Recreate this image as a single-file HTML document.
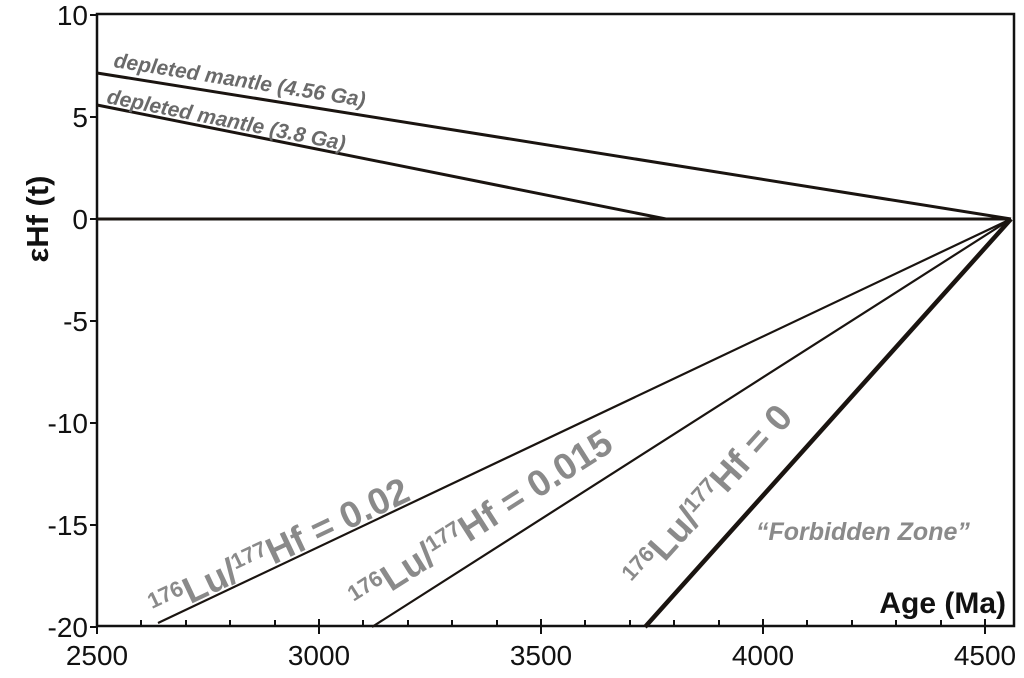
<!DOCTYPE html>
<html><head><meta charset="utf-8"><style>html,body{margin:0;padding:0;background:#fff}</style></head>
<body>
<svg width="1024" height="673" viewBox="0 0 1024 673" xmlns="http://www.w3.org/2000/svg" font-family="Liberation Sans, Arial, sans-serif">
<rect width="1024" height="673" fill="#fff"/>
<path d="M97,14 H1014 V626 H97 Z" fill="none" stroke="#111" stroke-width="2.5"/>
<g stroke="#111" stroke-width="2">
<line x1="90" y1="15" x2="97" y2="15"/><line x1="90" y1="117" x2="97" y2="117"/>
<line x1="90" y1="219" x2="97" y2="219"/><line x1="90" y1="321" x2="97" y2="321"/>
<line x1="90" y1="423" x2="97" y2="423"/><line x1="90" y1="525" x2="97" y2="525"/>
<line x1="90" y1="627" x2="97" y2="627"/>
</g>
<g stroke="#111" stroke-width="2">
<line x1="97" y1="619" x2="97" y2="634"/><line x1="319" y1="619" x2="319" y2="634"/>
<line x1="541" y1="619" x2="541" y2="634"/><line x1="763" y1="619" x2="763" y2="634"/>
<line x1="985" y1="619" x2="985" y2="634"/>
<line x1="141" y1="620" x2="141" y2="626"/><line x1="186" y1="620" x2="186" y2="626"/>
<line x1="230" y1="620" x2="230" y2="626"/><line x1="275" y1="620" x2="275" y2="626"/>
<line x1="363" y1="620" x2="363" y2="626"/><line x1="408" y1="620" x2="408" y2="626"/>
<line x1="452" y1="620" x2="452" y2="626"/><line x1="497" y1="620" x2="497" y2="626"/>
<line x1="585" y1="620" x2="585" y2="626"/><line x1="630" y1="620" x2="630" y2="626"/>
<line x1="674" y1="620" x2="674" y2="626"/><line x1="719" y1="620" x2="719" y2="626"/>
<line x1="807" y1="620" x2="807" y2="626"/><line x1="852" y1="620" x2="852" y2="626"/>
<line x1="896" y1="620" x2="896" y2="626"/><line x1="941" y1="620" x2="941" y2="626"/>
</g>
<g font-size="28" fill="#111" text-anchor="end">
<text x="88" y="25">10</text><text x="88" y="127">5</text><text x="88" y="229">0</text>
<text x="88" y="331">-5</text><text x="88" y="433">-10</text><text x="88" y="535">-15</text>
<text x="88" y="637">-20</text>
</g>
<g font-size="28" fill="#111" text-anchor="middle">
<text x="97" y="665">2500</text><text x="319" y="665">3000</text><text x="541" y="665">3500</text>
<text x="763" y="665">4000</text><text x="985" y="665">4500</text>
</g>
<text transform="translate(48,219) rotate(-90)" font-size="31" font-weight="bold" fill="#111" text-anchor="middle">εHf (t)</text>
<text x="1006" y="613" font-size="30" font-weight="bold" fill="#111" text-anchor="end">Age (Ma)</text>
<g stroke="#1a1410" fill="none">
<line x1="97" y1="73" x2="1011" y2="219" stroke-width="3"/>
<line x1="97" y1="105" x2="666" y2="219" stroke-width="3"/>
<line x1="97" y1="219" x2="1011" y2="219" stroke-width="3"/>
<line x1="158" y1="623" x2="1011" y2="219" stroke-width="2.2"/>
<line x1="372" y1="627" x2="1011" y2="219" stroke-width="2.2"/>
<line x1="645" y1="627" x2="1011" y2="219" stroke-width="4.5"/>
</g>
<g font-style="italic" font-weight="bold" font-size="21" fill="#6a6a6a">
<text transform="translate(113,67) rotate(9)">depleted mantle (4.56 Ga)</text>
<text transform="translate(106,103) rotate(11.3)">depleted mantle (3.8 Ga)</text>
</g>
<g font-weight="bold" fill="#8a8a8a" font-size="37">
<text transform="translate(157,620) rotate(-25.3)"><tspan font-size="22" dy="-12">176</tspan><tspan dy="12">Lu/</tspan><tspan font-size="22" dy="-12">177</tspan><tspan dy="12">Hf = 0.02</tspan></text>
<text transform="translate(360,612) rotate(-32.5)"><tspan font-size="22" dy="-12">176</tspan><tspan dy="12">Lu/</tspan><tspan font-size="22" dy="-12">177</tspan><tspan dy="12">Hf = 0.015</tspan></text>
<text transform="translate(640,590) rotate(-48)"><tspan font-size="22" dy="-12">176</tspan><tspan dy="12">Lu/</tspan><tspan font-size="22" dy="-12">177</tspan><tspan dy="12">Hf = 0</tspan></text>
</g>
<text x="756" y="540" font-style="italic" font-weight="bold" font-size="25" fill="#8a8a8a">“Forbidden Zone”</text>
</svg>
</body></html>
